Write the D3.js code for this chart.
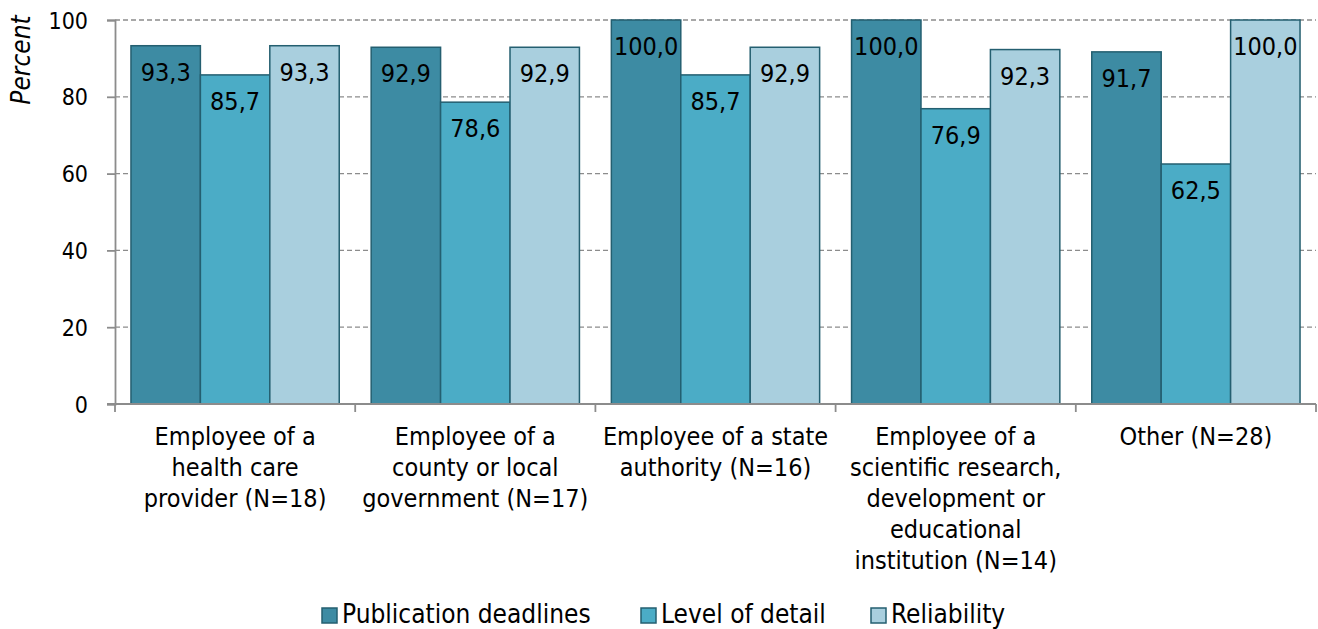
<!DOCTYPE html>
<html>
<head>
<meta charset="utf-8">
<script src="https://cdn.jsdelivr.net/npm/d3@7"></script>
<style>
  body { margin: 0; background: #fff; }
  text { font-family: "DejaVu Sans Condensed", "DejaVu Sans", sans-serif; fill: #000; }
</style>
</head>
<body>
<div id="chart"></div>
<script>
const categories = [
  ["Employee of a", "health care", "provider (N=18)"],
  ["Employee of a", "county or local", "government (N=17)"],
  ["Employee of a state", "authority (N=16)"],
  ["Employee of a", "scientific research,", "development or", "educational", "institution (N=14)"],
  ["Other (N=28)"]
]
const seriesNames = ["Publication deadlines", "Level of detail", "Reliability"]
const publicationDeadlines = [93.3, 92.9, 100.0, 100.0, 91.7]
const levelOfDetail = [85.7, 78.6, 85.7, 76.9, 62.5]
const reliability = [93.3, 92.9, 92.9, 92.3, 100.0]
const yTicks = [0, 20, 40, 60, 80, 100]

const colors = ["#3d8ba3", "#4bacc6", "#a9cfde"]
const strokeColor = "#245f70"
const axisColor = "#8c8c8c"

const W = 1318, H = 629
const margin = { top: 20, right: 2, bottom: 225, left: 115 }
const width = W - margin.left - margin.right
const height = H - margin.top - margin.bottom

const series = [publicationDeadlines, levelOfDetail, reliability]
const data = categories.map((c, i) => ({ i, values: series.map((s, k) => ({ k, v: s[i] })) }))

const svg = d3.select("#chart").append("svg")
  .attr("width", W)
  .attr("height", H)
const g = svg.append("g")
  .attr("transform", "translate(" + margin.left + "," + margin.top + ")")

const x0 = d3.scaleBand().domain(d3.range(categories.length)).range([0, width]).padding(0)
const x1 = d3.scaleBand().domain(d3.range(series.length)).range([0, x0.bandwidth()])
  .paddingInner(0).paddingOuter(0.23)
const y = d3.scaleLinear().domain([0, 100]).range([height, 0])

// gridlines
g.append("g")
  .selectAll("line")
  .data(yTicks.filter(d => d > 0))
  .join("line")
  .attr("x1", 0).attr("x2", width)
  .attr("y1", d => y(d)).attr("y2", d => y(d))
  .attr("stroke", axisColor)
  .attr("stroke-width", 1.3)
  .attr("stroke-dasharray", "5,3")

// y axis
const gy = g.append("g")
  .call(d3.axisLeft(y).tickValues(yTicks).tickSize(8).tickPadding(19).tickFormat(d3.format("d")))
gy.select(".domain").attr("stroke", axisColor).attr("stroke-width", 1.8)
gy.selectAll(".tick line").attr("stroke", axisColor).attr("stroke-width", 1.8)
gy.selectAll(".tick text").style("font-size", "23px").attr("dy", "0.35em")

// bars
const groups = g.append("g")
  .selectAll("g")
  .data(data)
  .join("g")
  .attr("transform", d => "translate(" + x0(d.i) + ",0)")

groups.selectAll("rect")
  .data(d => d.values)
  .join("rect")
  .attr("x", d => x1(d.k))
  .attr("y", d => y(d.v))
  .attr("width", x1.bandwidth())
  .attr("height", d => height - y(d.v))
  .attr("fill", d => colors[d.k])
  .attr("stroke", strokeColor)
  .attr("stroke-width", 1.5)

groups.selectAll("text")
  .data(d => d.values)
  .join("text")
  .attr("x", d => x1(d.k) + x1.bandwidth() / 2)
  .attr("y", d => y(d.v) + 35)
  .attr("text-anchor", "middle")
  .style("font-size", "25px")
  .text(d => d3.format(".1f")(d.v).replace(".", ","))

// x axis
const gx = g.append("g").attr("transform", "translate(0," + height + ")")
gx.append("line")
  .attr("x1", -8).attr("x2", width)
  .attr("stroke", axisColor).attr("stroke-width", 1.8)
gx.selectAll("line.tick")
  .data(d3.range(categories.length + 1))
  .join("line")
  .attr("class", "tick")
  .attr("x1", d => d * x0.bandwidth()).attr("x2", d => d * x0.bandwidth())
  .attr("y1", 0).attr("y2", 8)
  .attr("stroke", axisColor).attr("stroke-width", 1.8)

gx.selectAll("text.cat")
  .data(categories)
  .join("text")
  .attr("class", "cat")
  .attr("text-anchor", "middle")
  .attr("transform", (d, i) => "translate(" + (x0(i) + x0.bandwidth() / 2) + ",41)")
  .style("font-size", "25px")
  .selectAll("tspan")
  .data(d => d)
  .join("tspan")
  .attr("x", 0)
  .attr("y", (d, j) => j * 31)
  .text(d => d)

// y label
svg.append("text")
  .attr("transform", "translate(30,60) rotate(-90)")
  .attr("text-anchor", "middle")
  .style("font-size", "26px")
  .style("font-style", "italic")
  .text("Percent")

// legend
const legendX = [322, 641, 871]
const legend = svg.append("g").attr("transform", "translate(0,623)")
const li = legend.selectAll("g")
  .data(seriesNames)
  .join("g")
  .attr("transform", (d, k) => "translate(" + legendX[k] + ",0)")
li.append("rect")
  .attr("x", 0).attr("y", -15)
  .attr("width", 15).attr("height", 15)
  .attr("fill", (d, k) => colors[k])
  .attr("stroke", strokeColor)
  .attr("stroke-width", 1.5)
li.append("text")
  .attr("x", 20).attr("y", 0)
  .style("font-size", "26px")
  .text(d => d)
</script>
</body>
</html>
